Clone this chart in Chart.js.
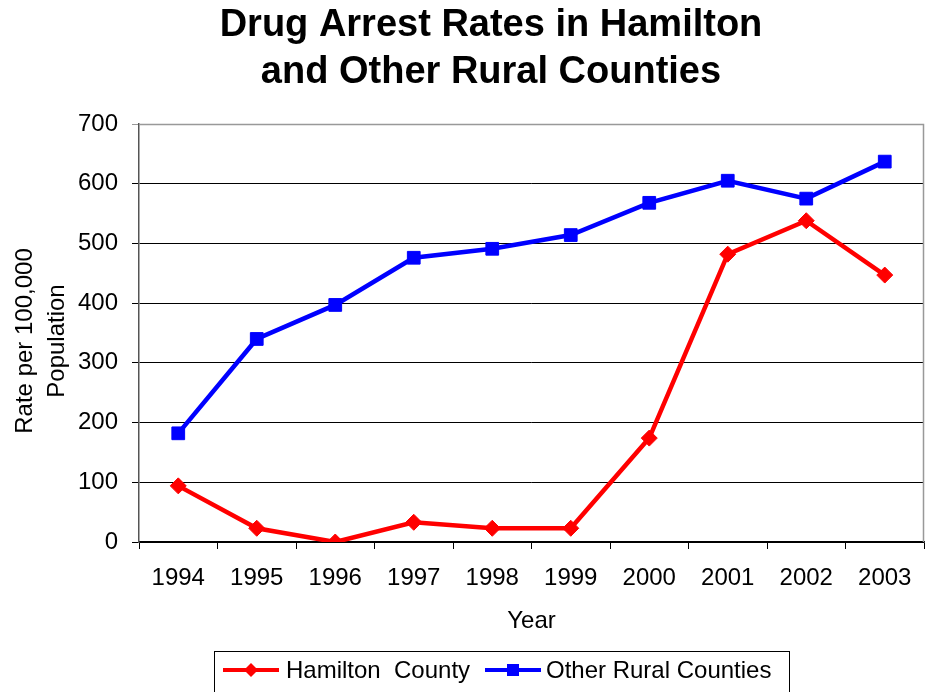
<!DOCTYPE html>
<html>
<head>
<meta charset="utf-8">
<title>Drug Arrest Rates</title>
<script src="https://cdn.jsdelivr.net/npm/chart.js@4.4.1/dist/chart.umd.min.js"></script>
<style>
  html, body { margin: 0; padding: 0; background: #fff; }
  canvas { display: block; }
</style>
</head>
<body>
<canvas id="chart" width="925" height="692"></canvas>
<script>
const years = ['1994', '1995', '1996', '1997', '1998', '1999', '2000', '2001', '2002', '2003'];
const hamilton = [94, 23, 0, 33, 23, 23, 174, 482, 538, 447];
const otherRural = [182, 340, 397, 476, 491, 514, 568, 605, 575, 637];
const titleLines = ['Drug Arrest Rates in Hamilton', 'and Other Rural Counties'];
const yTitleLines = ['Rate per 100,000', 'Population'];
const xTitle = 'Year';
const seriesNames = ['Hamilton  County', 'Other Rural Counties'];

const FONT = '"Liberation Sans", Arial, sans-serif';
const RED = '#ff0000';
const BLUE = '#0000ff';

// titles, axis titles, legend box and the grey plot frame
const decorations = {
  id: 'decorations',
  afterDraw(chart) {
    const { ctx, chartArea: a } = chart;
    ctx.save();

    // frame on top and right
    ctx.strokeStyle = '#999';
    ctx.lineWidth = 1.5;
    ctx.beginPath();
    ctx.moveTo(a.left, a.top + 0.5);
    ctx.lineTo(a.right - 0.5, a.top + 0.5);
    ctx.lineTo(a.right - 0.5, a.bottom);
    ctx.stroke();

    ctx.fillStyle = '#000';
    ctx.textAlign = 'center';
    ctx.textBaseline = 'middle';
    ctx.font = `bold 38px ${FONT}`;
    titleLines.forEach((t, i) => ctx.fillText(t, 491, 26 + i * 47));

    ctx.font = `24px ${FONT}`;
    ctx.fillText(xTitle, (a.left + a.right) / 2, 621);

    ctx.save();
    ctx.translate(0, (a.top + a.bottom) / 2 + 8);
    ctx.rotate(-Math.PI / 2);
    yTitleLines.forEach((t, i) => ctx.fillText(t, 0, 25 + i * 32));
    ctx.restore();

    // legend
    ctx.strokeStyle = '#000';
    ctx.lineWidth = 1;
    ctx.strokeRect(214.5, 651.5, 575, 60);
    const items = [
      { x: 223, color: RED, marker: 'diamond', textX: 286 },
      { x: 485, color: BLUE, marker: 'square', textX: 546 },
    ];
    const ly = 670;
    items.forEach((it, i) => {
      ctx.strokeStyle = it.color;
      ctx.fillStyle = it.color;
      ctx.lineWidth = 4;
      ctx.beginPath();
      ctx.moveTo(it.x, ly);
      ctx.lineTo(it.x + 56, ly);
      ctx.stroke();
      const cx = it.x + 28;
      ctx.beginPath();
      if (it.marker === 'diamond') {
        ctx.moveTo(cx, ly - 7);
        ctx.lineTo(cx + 7, ly);
        ctx.lineTo(cx, ly + 7);
        ctx.lineTo(cx - 7, ly);
        ctx.closePath();
      } else {
        ctx.rect(cx - 6, ly - 6, 12, 12);
      }
      ctx.fill();
      ctx.fillStyle = '#000';
      ctx.textAlign = 'left';
      ctx.font = `24px ${FONT}`;
      ctx.fillText(seriesNames[i], it.textX, ly + 1);
    });
    ctx.restore();
  },
};

new Chart(document.getElementById('chart'), {
  type: 'line',
  data: {
    labels: years,
    datasets: [
      {
        label: seriesNames[0],
        data: hamilton,
        borderColor: RED,
        backgroundColor: RED,
        borderWidth: 4.5,
        pointStyle: 'rectRot',
        pointRadius: 8,
        pointBorderWidth: 1,
        tension: 0,
      },
      {
        label: seriesNames[1],
        data: otherRural,
        borderColor: BLUE,
        backgroundColor: BLUE,
        borderWidth: 4.5,
        pointStyle: 'rect',
        pointRadius: 9,
        pointBorderWidth: 1,
        tension: 0,
      },
    ],
  },
  plugins: [decorations],
  options: {
    responsive: false,
    animation: false,
    layout: {
      autoPadding: false,
      padding: { top: 124, right: 1, bottom: 0, left: 0 },
    },
    plugins: {
      legend: { display: false },
      title: { display: false },
      tooltip: { enabled: false },
    },
    scales: {
      x: {
        offset: true,
        afterFit(scale) {
          scale.height = 150;
          scale.paddingLeft = 0;
          scale.paddingRight = 0;
        },
        grid: {
          offset: true,
          drawOnChartArea: false,
          tickLength: 7,
          color: '#000',
        },
        border: { color: '#000', width: 1.5 },
        ticks: {
          color: '#000',
          font: { family: FONT, size: 24 },
          padding: 15,
          maxRotation: 0,
        },
      },
      y: {
        min: 0,
        max: 700,
        afterFit(scale) { scale.width = 139; },
        grid: {
          tickLength: 7,
          color: (c) => (c.tick && c.tick.value === 700 ? '#999' : '#000'),
        },
        border: { color: '#555', width: 1.5 },
        ticks: {
          stepSize: 100,
          color: '#000',
          font: { family: FONT, size: 24 },
          padding: 14,
        },
      },
    },
  },
});
</script>
</body>
</html>
